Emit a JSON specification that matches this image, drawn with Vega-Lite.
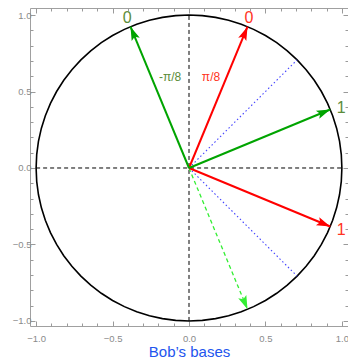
{
  "$schema": "https://vega.github.io/schema/vega-lite/v6.json",
  "width": 318,
  "height": 318,
  "autosize": {"type": "none"},
  "padding": {"left": 30, "top": 8, "right": 0, "bottom": 33},
  "config": {
    "view": {"stroke": "#a0a0a0", "strokeWidth": 1},
    "axis": {
      "domain": false,
      "grid": false,
      "tickColor": "#9a9a9a",
      "tickWidth": 1,
      "labelColor": "#8a8a8a",
      "labelFont": "Liberation Sans",
      "labelFontSize": 9.5,
      "labelOverlap": false,
      "labelFlush": false
    }
  },
  "datasets": {
    "circle": [
      {"t": 0, "x": 1, "y": 0}, {"t": 5, "x": 0.9962, "y": 0.0872}, {"t": 10, "x": 0.9848, "y": 0.1736},
      {"t": 15, "x": 0.9659, "y": 0.2588}, {"t": 20, "x": 0.9397, "y": 0.342}, {"t": 25, "x": 0.9063, "y": 0.4226},
      {"t": 30, "x": 0.866, "y": 0.5}, {"t": 35, "x": 0.8192, "y": 0.5736}, {"t": 40, "x": 0.766, "y": 0.6428},
      {"t": 45, "x": 0.7071, "y": 0.7071}, {"t": 50, "x": 0.6428, "y": 0.766}, {"t": 55, "x": 0.5736, "y": 0.8192},
      {"t": 60, "x": 0.5, "y": 0.866}, {"t": 65, "x": 0.4226, "y": 0.9063}, {"t": 70, "x": 0.342, "y": 0.9397},
      {"t": 75, "x": 0.2588, "y": 0.9659}, {"t": 80, "x": 0.1736, "y": 0.9848}, {"t": 85, "x": 0.0872, "y": 0.9962},
      {"t": 90, "x": 0, "y": 1}, {"t": 95, "x": -0.0872, "y": 0.9962}, {"t": 100, "x": -0.1736, "y": 0.9848},
      {"t": 105, "x": -0.2588, "y": 0.9659}, {"t": 110, "x": -0.342, "y": 0.9397}, {"t": 115, "x": -0.4226, "y": 0.9063},
      {"t": 120, "x": -0.5, "y": 0.866}, {"t": 125, "x": -0.5736, "y": 0.8192}, {"t": 130, "x": -0.6428, "y": 0.766},
      {"t": 135, "x": -0.7071, "y": 0.7071}, {"t": 140, "x": -0.766, "y": 0.6428}, {"t": 145, "x": -0.8192, "y": 0.5736},
      {"t": 150, "x": -0.866, "y": 0.5}, {"t": 155, "x": -0.9063, "y": 0.4226}, {"t": 160, "x": -0.9397, "y": 0.342},
      {"t": 165, "x": -0.9659, "y": 0.2588}, {"t": 170, "x": -0.9848, "y": 0.1736}, {"t": 175, "x": -0.9962, "y": 0.0872},
      {"t": 180, "x": -1, "y": 0}, {"t": 185, "x": -0.9962, "y": -0.0872}, {"t": 190, "x": -0.9848, "y": -0.1736},
      {"t": 195, "x": -0.9659, "y": -0.2588}, {"t": 200, "x": -0.9397, "y": -0.342}, {"t": 205, "x": -0.9063, "y": -0.4226},
      {"t": 210, "x": -0.866, "y": -0.5}, {"t": 215, "x": -0.8192, "y": -0.5736}, {"t": 220, "x": -0.766, "y": -0.6428},
      {"t": 225, "x": -0.7071, "y": -0.7071}, {"t": 230, "x": -0.6428, "y": -0.766}, {"t": 235, "x": -0.5736, "y": -0.8192},
      {"t": 240, "x": -0.5, "y": -0.866}, {"t": 245, "x": -0.4226, "y": -0.9063}, {"t": 250, "x": -0.342, "y": -0.9397},
      {"t": 255, "x": -0.2588, "y": -0.9659}, {"t": 260, "x": -0.1736, "y": -0.9848}, {"t": 265, "x": -0.0872, "y": -0.9962},
      {"t": 270, "x": 0, "y": -1}, {"t": 275, "x": 0.0872, "y": -0.9962}, {"t": 280, "x": 0.1736, "y": -0.9848},
      {"t": 285, "x": 0.2588, "y": -0.9659}, {"t": 290, "x": 0.342, "y": -0.9397}, {"t": 295, "x": 0.4226, "y": -0.9063},
      {"t": 300, "x": 0.5, "y": -0.866}, {"t": 305, "x": 0.5736, "y": -0.8192}, {"t": 310, "x": 0.6428, "y": -0.766},
      {"t": 315, "x": 0.7071, "y": -0.7071}, {"t": 320, "x": 0.766, "y": -0.6428}, {"t": 325, "x": 0.8192, "y": -0.5736},
      {"t": 330, "x": 0.866, "y": -0.5}, {"t": 335, "x": 0.9063, "y": -0.4226}, {"t": 340, "x": 0.9397, "y": -0.342},
      {"t": 345, "x": 0.9659, "y": -0.2588}, {"t": 350, "x": 0.9848, "y": -0.1736}, {"t": 355, "x": 0.9962, "y": -0.0872},
      {"t": 360, "x": 1, "y": 0}
    ],
    "axes": [
      {"x": -1, "y": 0, "x2": 1, "y2": 0},
      {"x": 0, "y": -1, "x2": 0, "y2": 1}
    ],
    "diag": [
      {"x0": 0, "y0": 0, "x": 0.7071, "y": 0.7071},
      {"x0": 0, "y0": 0, "x": 0.7071, "y": -0.7071}
    ],
    "arrows": [
      {"x0": 0, "y0": 0, "x": 0.3827, "y": 0.9239, "deg": 67.5, "series": "red"},
      {"x0": 0, "y0": 0, "x": 0.9239, "y": -0.3827, "deg": -22.5, "series": "red"},
      {"x0": 0, "y0": 0, "x": -0.3827, "y": 0.9239, "deg": 112.5, "series": "green"},
      {"x0": 0, "y0": 0, "x": 0.9239, "y": 0.3827, "deg": 22.5, "series": "green"}
    ],
    "dashedArrow": [
      {"x0": 0, "y0": 0, "x": 0.3827, "y": -0.9239, "deg": -67.5, "series": "light"}
    ],
    "labels": [
      {"x": -0.405, "y": 0.98, "text": "0", "series": "green"},
      {"x": 0.392, "y": 0.98, "text": "0", "series": "red"},
      {"x": 0.995, "y": 0.392, "text": "1", "series": "green"},
      {"x": 0.995, "y": -0.405, "text": "1", "series": "red"}
    ],
    "angles": [
      {"x": -0.124, "y": 0.595, "text": "-π/8", "series": "green"},
      {"x": 0.144, "y": 0.595, "text": "π/8", "series": "red"}
    ]
  },
  "layer": [
    {
      "data": {"name": "circle"},
      "mark": {"type": "line", "color": "black", "strokeWidth": 1.6},
      "encoding": {
        "x": {
          "field": "x", "type": "quantitative",
          "scale": {"domain": [-1.04, 1.04], "nice": false, "zero": false},
          "axis": {
            "orient": "bottom",
            "values": [-1, -0.9, -0.8, -0.7, -0.6, -0.5, -0.4, -0.3, -0.2, -0.1, 0, 0.1, 0.2, 0.3, 0.4, 0.5, 0.6, 0.7, 0.8, 0.9, 1],
            "tickSize": {"condition": {"test": "abs(datum.value*2 - round(datum.value*2)) < 0.001", "value": -5}, "value": -3},
            "labelExpr": "abs(datum.value*2 - round(datum.value*2)) < 0.001 ? format(datum.value, '.1f') : ''",
            "labelPadding": 12,
            "title": "Bob’s bases",
            "titleColor": "#2255ee",
            "titleFont": "Liberation Sans",
            "titleFontSize": 15,
            "titleFontWeight": "normal",
            "titlePadding": 0
          }
        },
        "y": {
          "field": "y", "type": "quantitative",
          "scale": {"domain": [-1.033, 1.046], "nice": false, "zero": false},
          "axis": {
            "orient": "left",
            "values": [-1, -0.9, -0.8, -0.7, -0.6, -0.5, -0.4, -0.3, -0.2, -0.1, 0, 0.1, 0.2, 0.3, 0.4, 0.5, 0.6, 0.7, 0.8, 0.9, 1],
            "tickSize": {"condition": {"test": "abs(datum.value*2 - round(datum.value*2)) < 0.001", "value": -5}, "value": -3},
            "labelExpr": "abs(datum.value*2 - round(datum.value*2)) < 0.001 ? format(datum.value, '.1f') : ''",
            "labelPadding": 4,
            "title": null
          }
        },
        "order": {"field": "t", "type": "quantitative"}
      }
    },
    {
      "data": {"name": "axes"},
      "mark": {"type": "rule", "color": "black", "strokeWidth": 1, "strokeDash": [4, 3]},
      "encoding": {
        "x": {
          "field": "x", "type": "quantitative",
          "axis": {
            "orient": "top",
            "values": [-1, -0.9, -0.8, -0.7, -0.6, -0.5, -0.4, -0.3, -0.2, -0.1, 0, 0.1, 0.2, 0.3, 0.4, 0.5, 0.6, 0.7, 0.8, 0.9, 1],
            "tickSize": {"condition": {"test": "abs(datum.value*2 - round(datum.value*2)) < 0.001", "value": -5}, "value": -3},
            "labels": false,
            "title": null
          }
        },
        "y": {
          "field": "y", "type": "quantitative",
          "axis": {
            "orient": "right",
            "values": [-1, -0.9, -0.8, -0.7, -0.6, -0.5, -0.4, -0.3, -0.2, -0.1, 0, 0.1, 0.2, 0.3, 0.4, 0.5, 0.6, 0.7, 0.8, 0.9, 1],
            "tickSize": {"condition": {"test": "abs(datum.value*2 - round(datum.value*2)) < 0.001", "value": -5}, "value": -3},
            "labels": false,
            "title": null
          }
        },
        "x2": {"field": "x2"},
        "y2": {"field": "y2"}
      }
    },
    {
      "data": {"name": "diag"},
      "mark": {"type": "rule", "color": "#4444ff", "strokeWidth": 1.1, "strokeDash": [1.5, 2.5]},
      "encoding": {
        "x": {"field": "x0", "type": "quantitative", "axis": null},
        "y": {"field": "y0", "type": "quantitative", "axis": null},
        "x2": {"field": "x"},
        "y2": {"field": "y"}
      }
    },
    {
      "data": {"name": "dashedArrow"},
      "mark": {"type": "rule", "color": "#33ee33", "strokeWidth": 1.3, "strokeDash": [4, 3]},
      "encoding": {
        "x": {"field": "x0", "type": "quantitative", "axis": null},
        "y": {"field": "y0", "type": "quantitative", "axis": null},
        "x2": {"field": "x"},
        "y2": {"field": "y"}
      }
    },
    {
      "data": {"name": "arrows"},
      "mark": {"type": "rule", "strokeWidth": 2},
      "encoding": {
        "x": {"field": "x0", "type": "quantitative", "axis": null},
        "y": {"field": "y0", "type": "quantitative", "axis": null},
        "x2": {"field": "x"},
        "y2": {"field": "y"},
        "color": {"field": "series", "type": "nominal", "legend": null,
          "scale": {"domain": ["red", "green", "light"], "range": ["#ff0000", "#00a400", "#33ee33"]}}
      }
    },
    {
      "data": {"name": "arrows"},
      "mark": {"type": "point", "filled": true, "opacity": 1, "size": 750, "shape": "M0,0L-0.32,1L0,0.8L0.32,1Z"},
      "encoding": {
        "x": {"field": "x", "type": "quantitative", "axis": null},
        "y": {"field": "y", "type": "quantitative", "axis": null},
        "angle": {"field": "deg", "type": "quantitative", "scale": {"domain": [-90, 180], "range": [180, -90]}},
        "color": {"field": "series", "type": "nominal", "legend": null,
          "scale": {"domain": ["red", "green", "light"], "range": ["#ff0000", "#00a400", "#33ee33"]}}
      }
    },
    {
      "data": {"name": "dashedArrow"},
      "mark": {"type": "point", "filled": true, "opacity": 1, "size": 750, "shape": "M0,0L-0.32,1L0,0.8L0.32,1Z", "color": "#33ee33"},
      "encoding": {
        "x": {"field": "x", "type": "quantitative", "axis": null},
        "y": {"field": "y", "type": "quantitative", "axis": null},
        "angle": {"field": "deg", "type": "quantitative", "scale": {"domain": [-90, 180], "range": [180, -90]}}
      }
    },
    {
      "data": {"name": "labels"},
      "mark": {"type": "text", "font": "Liberation Sans", "fontSize": 16, "align": "center", "baseline": "middle"},
      "encoding": {
        "x": {"field": "x", "type": "quantitative", "axis": null},
        "y": {"field": "y", "type": "quantitative", "axis": null},
        "text": {"field": "text"},
        "color": {"field": "series", "type": "nominal", "legend": null,
          "scale": {"domain": ["red", "green"], "range": ["#ff3322", "#5b8c3a"]}}
      }
    },
    {
      "data": {"name": "angles"},
      "mark": {"type": "text", "font": "Liberation Sans", "fontSize": 12, "align": "center", "baseline": "middle"},
      "encoding": {
        "x": {"field": "x", "type": "quantitative", "axis": null},
        "y": {"field": "y", "type": "quantitative", "axis": null},
        "text": {"field": "text"},
        "color": {"field": "series", "type": "nominal", "legend": null,
          "scale": {"domain": ["red", "green"], "range": ["#ff3322", "#5b8c3a"]}}
      }
    }
  ],
  "resolve": {
    "axis": {"x": "independent", "y": "independent"},
    "scale": {"color": "independent"}
  }
}
